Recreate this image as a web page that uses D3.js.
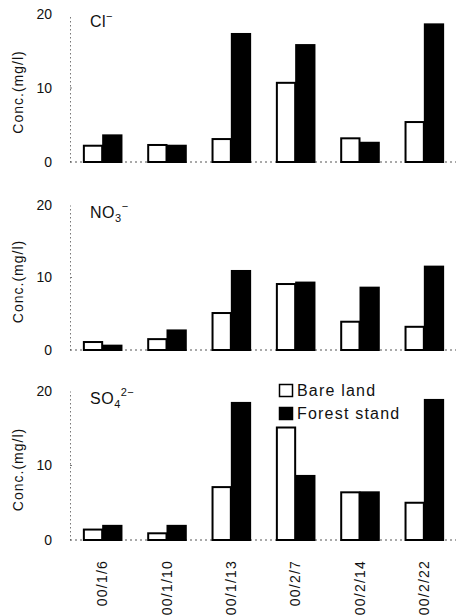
<!DOCTYPE html>
<html>
<head>
<meta charset="utf-8">
<script src="https://cdn.jsdelivr.net/npm/d3@7"></script>
<style>
  body { margin: 0; background: #fff; }
  svg { display: block; font-family: "Liberation Sans", Arial, sans-serif; }
</style>
</head>
<body>
<svg id="chart" width="459" height="615"></svg>
<script>
const dates = ["00/1/6", "00/1/10", "00/1/13", "00/2/7", "00/2/14", "00/2/22"];
const seriesNames = ["Bare land", "Forest stand"];
const yTicks = [0, 10, 20];

const clBare   = [2.2, 2.3, 3.1, 10.7, 3.2, 5.4];
const clForest = [3.6, 2.2, 17.3, 15.8, 2.6, 18.6];
const no3Bare   = [1.1, 1.5, 5.1, 9.1, 3.9, 3.2];
const no3Forest = [0.6, 2.7, 10.9, 9.3, 8.6, 11.5];
const so4Bare   = [1.4, 0.9, 7.1, 15.1, 6.4, 5.0];
const so4Forest = [1.9, 1.9, 18.4, 8.6, 6.4, 18.8];

const panels = [
  { ion: "Cl", sub: "", sup: "\u2212", bare: clBare, forest: clForest, bottom: 162, top: 14 },
  { ion: "NO", sub: "3", sup: "\u2212", bare: no3Bare, forest: no3Forest, bottom: 350, top: 205 },
  { ion: "SO", sub: "4", sup: "2\u2212", bare: so4Bare, forest: so4Forest, bottom: 540, top: 391 }
];

const svg = d3.select("#chart");
const xLeft = 70, xRight = 456;

const x0 = d3.scaleBand().domain(dates).range([xLeft, xRight]).paddingInner(0.4).paddingOuter(0.2);
const x1 = d3.scaleBand().domain(seriesNames).range([0, x0.bandwidth()]).padding(0);
const fill = d3.scaleOrdinal().domain(seriesNames).range(["#fff", "#000"]);

panels.forEach((p, pi) => {
  const y = d3.scaleLinear().domain([0, 20]).range([p.bottom, p.top]);
  const g = svg.append("g");

  // left axis (dotted)
  const yAxis = d3.axisLeft(y).tickValues(yTicks).tickSize(0).tickPadding(18);
  const ga = g.append("g").attr("transform", `translate(${xLeft},0)`).call(yAxis);
  ga.select(".domain").attr("stroke", "#777").attr("stroke-width", 1).attr("stroke-dasharray", "1.5,2.5");
  ga.selectAll("text").attr("font-size", 14).attr("fill", "#111");
  // small tick at 10
  g.append("line").attr("x1", xLeft).attr("x2", xLeft + 2)
    .attr("y1", y(10)).attr("y2", y(10)).attr("stroke", "#777");

  // baseline dotted
  g.append("line").attr("x1", xLeft).attr("x2", xRight)
    .attr("y1", y(0)).attr("y2", y(0))
    .attr("stroke", "#555").attr("stroke-width", 1).attr("stroke-dasharray", "2,3");

  // bars
  const groups = g.selectAll("g.grp").data(dates).join("g")
    .attr("class", "grp").attr("transform", d => `translate(${x0(d)},0)`);
  groups.selectAll("rect").data((d, i) => [
      { s: seriesNames[0], v: p.bare[i] },
      { s: seriesNames[1], v: p.forest[i] }
    ]).join("rect")
    .attr("x", d => x1(d.s) + 1)
    .attr("y", d => y(d.v))
    .attr("width", x1.bandwidth() - 1)
    .attr("height", d => y(0) - y(d.v))
    .attr("fill", d => fill(d.s))
    .attr("stroke", "#000").attr("stroke-width", 2);

  // y label
  g.append("text")
    .attr("transform", `translate(23,${(y(0) + y(20)) / 2 + 4}) rotate(-90)`)
    .attr("text-anchor", "middle").attr("font-size", 14).attr("letter-spacing", 1)
    .attr("fill", "#111")
    .text("Conc.(mg/l)");

  // ion label
  const t = g.append("text").attr("x", 90).attr("y", y(20) + 13)
    .attr("font-size", 16).attr("letter-spacing", 0.5).attr("fill", "#111");
  t.append("tspan").text(p.ion);
  if (p.sub) t.append("tspan").attr("font-size", 11).attr("dy", 4).text(p.sub);
  t.append("tspan").attr("font-size", 11).attr("dy", p.sub ? -12 : -7).text(p.sup);
});

// legend
const lg = svg.append("g").attr("transform", "translate(279,384)");
seriesNames.forEach((s, i) => {
  lg.append("rect").attr("x", 0.5).attr("y", i * 23 + 0.5).attr("width", 13).attr("height", 12)
    .attr("fill", fill(s)).attr("stroke", "#000").attr("stroke-width", 1.5);
  lg.append("text").attr("x", 18).attr("y", i * 23 + 12).attr("font-size", 16)
    .attr("letter-spacing", 1.2).attr("fill", "#111").text(s);
});

// x labels
const bottomY = panels[2].bottom;
svg.append("g").selectAll("text").data(dates).join("text")
  .attr("transform", d => `translate(${x0(d) + x0.bandwidth() / 2 + 5},${bottomY + 20}) rotate(-90)`)
  .attr("text-anchor", "end").attr("font-size", 14).attr("letter-spacing", 1.2).attr("fill", "#111")
  .text(d => d);
</script>
</body>
</html>
